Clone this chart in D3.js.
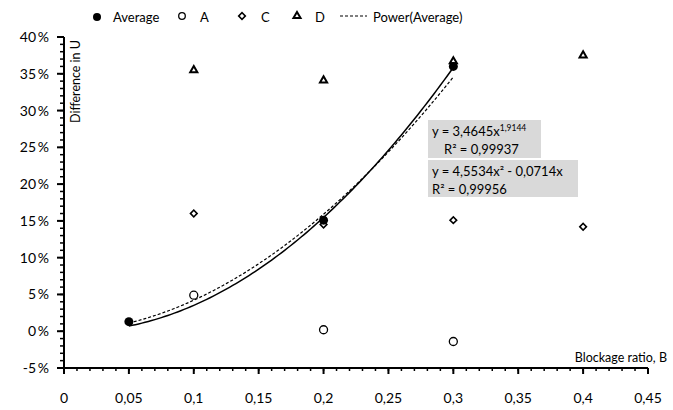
<!DOCTYPE html>
<html>
<head>
<meta charset="utf-8">
<script src="https://cdn.jsdelivr.net/npm/d3@7"></script>
<style>
  body { margin: 0; background: #fff; }
  svg { font-family: Lato, "Open Sans", sans-serif; }
</style>
</head>
<body>
<div id="chart"></div>
<script>
// data
const xAvg = [0.05, 0.2, 0.3];
const yAvg = [0.013, 0.151, 0.360];
const xA = [0.1, 0.2, 0.3];
const yA = [0.049, 0.002, -0.014];
const xC = [0.1, 0.2, 0.3, 0.4];
const yC = [0.160, 0.145, 0.151, 0.142];
const xD = [0.1, 0.2, 0.3, 0.4];
const yD = [0.355, 0.341, 0.367, 0.375];
const xTicks = [0, 0.05, 0.1, 0.15, 0.2, 0.25, 0.3, 0.35, 0.4, 0.45];
const yTicks = [-0.05, 0, 0.05, 0.1, 0.15, 0.2, 0.25, 0.3, 0.35, 0.4];
// power trendline as printed on the chart
const powA = 3.4645, powB = 1.9144;

const W = 673, H = 410;
const margin = {top: 37, right: 25, bottom: 42, left: 64};

const svg = d3.select('#chart').append('svg')
  .attr('width', W).attr('height', H);

const x = d3.scaleLinear().domain([0, 0.45]).range([margin.left, W - margin.right]);
const y = d3.scaleLinear().domain([-0.05, 0.4]).range([H - margin.bottom, margin.top]);

const fmtX = d => d === 0 ? '0' : String(+d.toFixed(2)).replace('.', ',');
const fmtY = d => Math.round(d * 100) + '\u2009%';

// minor ticks
const xMinor = d3.range(0, 0.4501, 0.01);
const yMinor = d3.range(-0.05, 0.4001, 0.01);

const axisG = svg.append('g').attr('stroke', '#000');
axisG.selectAll('line.xm').data(xMinor).join('line')
  .attr('x1', d => x(d)).attr('x2', d => x(d))
  .attr('y1', y(-0.05)).attr('y2', y(-0.05) + 3).attr('stroke-width', 1.5);
axisG.selectAll('line.ym').data(yMinor).join('line')
  .attr('y1', d => y(d)).attr('y2', d => y(d))
  .attr('x1', x(0) - 4).attr('x2', x(0)).attr('stroke-width', 1.5);
axisG.selectAll('line.xM').data(xTicks).join('line')
  .attr('x1', d => x(d)).attr('x2', d => x(d))
  .attr('y1', y(-0.05)).attr('y2', y(-0.05) + 6).attr('stroke-width', 2);
axisG.selectAll('line.yM').data(yTicks).join('line')
  .attr('y1', d => y(d)).attr('y2', d => y(d))
  .attr('x1', x(0) - 7).attr('x2', x(0)).attr('stroke-width', 2);
axisG.append('line')
  .attr('x1', x(0)).attr('x2', x(0.45))
  .attr('y1', y(-0.05)).attr('y2', y(-0.05)).attr('stroke-width', 2);
axisG.append('line')
  .attr('x1', x(0)).attr('x2', x(0))
  .attr('y1', y(-0.05)).attr('y2', y(0.4)).attr('stroke-width', 2);

svg.append('g').selectAll('text').data(xTicks).join('text')
  .attr('x', d => x(d)).attr('y', y(-0.05) + 35)
  .attr('text-anchor', 'middle').attr('font-size', 14)
  .text(fmtX);
svg.append('g').selectAll('text').data(yTicks).join('text')
  .attr('x', x(0) - 15).attr('y', d => y(d) + 5)
  .attr('text-anchor', 'end').attr('font-size', 14)
  .text(fmtY);

// axis titles
svg.append('text')
  .attr('transform', `translate(${x(0) + 16},${y(0.4) + 3}) rotate(-90)`)
  .attr('text-anchor', 'end').attr('font-size', 12.5)
  .text('Difference in U');
svg.append('text')
  .attr('x', W - 6).attr('y', y(-0.05) - 6)
  .attr('text-anchor', 'end').attr('font-size', 12.5)
  .text('Blockage ratio, B');

// solid trendline: quadratic through origin, least squares on the averages
let s4 = 0, s3 = 0, s2 = 0, s2y = 0, s1y = 0;
xAvg.forEach((v, i) => {
  s4 += v ** 4; s3 += v ** 3; s2 += v ** 2;
  s2y += v * v * yAvg[i]; s1y += v * yAvg[i];
});
const det = s4 * s2 - s3 * s3;
const qa = (s2y * s2 - s3 * s1y) / det;
const qb = (s4 * s1y - s3 * s2y) / det;

const xs = d3.range(0.05, 0.3001, 0.0025);
const line = d3.line().x(d => x(d[0])).y(d => y(d[1]));
svg.append('path')
  .attr('d', line(xs.map(v => [v, qa * v * v + qb * v])))
  .attr('fill', 'none').attr('stroke', '#000').attr('stroke-width', 1.5);
svg.append('path')
  .attr('d', line(xs.map(v => [v, powA * Math.pow(v, powB)])))
  .attr('fill', 'none').attr('stroke', '#000').attr('stroke-width', 1.2)
  .attr('stroke-dasharray', '3,2');

// markers
const tri = d3.symbol().type(d3.symbolTriangle).size(22);
const dia = d3.symbol().type(d3.symbolSquare).size(22);

function series(xv, yv) { return xv.map((v, i) => [v, yv[i]]); }

svg.append('g').selectAll('path').data(series(xD, yD)).join('path')
  .attr('d', tri).attr('transform', d => `translate(${x(d[0])},${y(d[1])})`)
  .attr('fill', '#fff').attr('stroke', '#000').attr('stroke-width', 2);
svg.append('g').selectAll('path').data(series(xC, yC)).join('path')
  .attr('d', dia).attr('transform', d => `translate(${x(d[0])},${y(d[1])}) rotate(45)`)
  .attr('fill', '#fff').attr('stroke', '#000').attr('stroke-width', 1.6);
svg.append('g').selectAll('circle').data(series(xA, yA)).join('circle')
  .attr('cx', d => x(d[0])).attr('cy', d => y(d[1])).attr('r', 4)
  .attr('fill', '#fff').attr('stroke', '#000').attr('stroke-width', 1.3);
svg.append('g').selectAll('circle').data(series(xAvg, yAvg)).join('circle')
  .attr('cx', d => x(d[0])).attr('cy', d => y(d[1])).attr('r', 4.5)
  .attr('fill', '#000');

// equation labels
const eq = svg.append('g').attr('font-size', 13);
eq.append('rect').attr('x', 428).attr('y', 120).attr('width', 113).attr('height', 38).attr('fill', '#d9d9d9');
eq.append('rect').attr('x', 428).attr('y', 160).attr('width', 150).attr('height', 37).attr('fill', '#d9d9d9');
const t1 = eq.append('text').attr('x', 432).attr('y', 136);
t1.append('tspan').text('y = 3,4645x');
t1.append('tspan').attr('font-size', 8.5).attr('dy', -5).text('1,9144');
eq.append('text').attr('x', 444).attr('y', 154).text('R\u00b2 = 0,99937');
eq.append('text').attr('x', 432).attr('y', 176).text('y = 4,5534x\u00b2 - 0,0714x');
eq.append('text').attr('x', 432).attr('y', 194).text('R\u00b2 = 0,99956');

// legend
const leg = svg.append('g').attr('font-size', 13);
leg.append('circle').attr('cx', 97).attr('cy', 17).attr('r', 4).attr('fill', '#000');
leg.append('text').attr('x', 113).attr('y', 22).text('Average');
leg.append('circle').attr('cx', 182).attr('cy', 16).attr('r', 3.3)
  .attr('fill', '#fff').attr('stroke', '#000').attr('stroke-width', 1.3);
leg.append('text').attr('x', 200).attr('y', 22).text('A');
leg.append('path').attr('d', dia).attr('transform', 'translate(242,16) rotate(45)')
  .attr('fill', '#fff').attr('stroke', '#000').attr('stroke-width', 1.6);
leg.append('text').attr('x', 261).attr('y', 22).text('C');
leg.append('path').attr('d', tri).attr('transform', 'translate(297,16)')
  .attr('fill', '#fff').attr('stroke', '#000').attr('stroke-width', 2);
leg.append('text').attr('x', 315).attr('y', 22).text('D');
leg.append('line').attr('x1', 340).attr('x2', 367).attr('y1', 16).attr('y2', 16)
  .attr('stroke', '#000').attr('stroke-width', 1.2).attr('stroke-dasharray', '3,2');
leg.append('text').attr('x', 373).attr('y', 22).text('Power(Average)');
</script>
</body>
</html>
